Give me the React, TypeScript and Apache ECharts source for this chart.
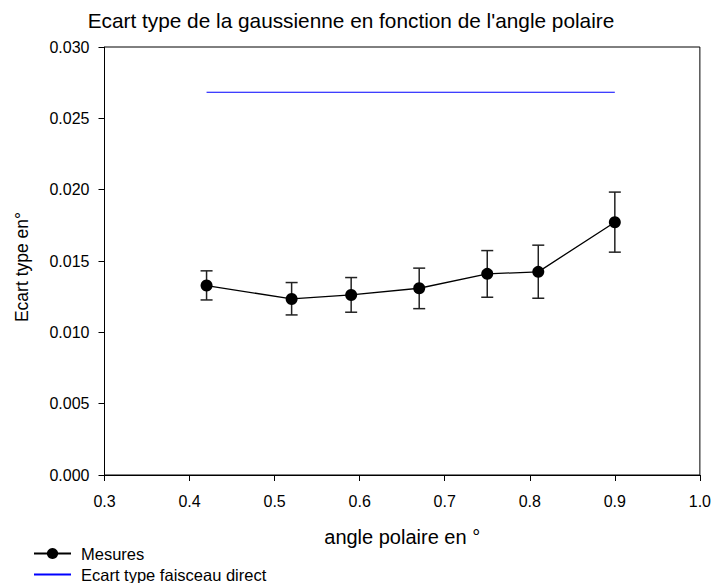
import React, { useEffect, useRef } from "react";
import * as echarts from "echarts";

const angles = [0.42, 0.52, 0.59, 0.67, 0.75, 0.81, 0.9];
const mesures = [0.01328, 0.01234, 0.01262, 0.01309, 0.0141, 0.01424, 0.01772];
const errLow = [0.01227, 0.01122, 0.01141, 0.01166, 0.01246, 0.01239, 0.01562];
const errHigh = [0.01431, 0.01349, 0.01384, 0.0145, 0.01573, 0.01611, 0.01983];
const faisceauDirect = [0.02683, 0.02683, 0.02683, 0.02683, 0.02683, 0.02683, 0.02683];

const FONT = "Liberation Sans, Arial, sans-serif";

export default function App() {
  const ref = useRef<HTMLDivElement>(null);
  useEffect(() => {
    document.body.style.margin = "0";
    if (!ref.current) return;
    const chart = echarts.init(ref.current, null, { renderer: "svg" });
    const errData = angles.map((a, i) => [a, errLow[i], errHigh[i]]);
    chart.setOption({
      animation: false,
      backgroundColor: "#ffffff",
      textStyle: { fontFamily: FONT },
      title: {
        text: "Ecart type de la gaussienne en fonction de l'angle polaire",
        left: 346,
        top: 5,
        textAlign: "center",
        textStyle: { fontFamily: FONT, fontSize: 20.8, fontWeight: "normal", color: "#000" },
      },
      graphic: [
        {
          type: "text",
          x: 22,
          y: 267,
          rotation: Math.PI / 2,
          style: {
            text: "Ecart type en°",
            fontFamily: FONT,
            fontSize: 17.5,
            fill: "#000",
            align: "center",
            verticalAlign: "middle",
          },
        },
      ],
      grid: {
        left: 104.5,
        right: 11.5,
        top: 47,
        bottom: 108,
        show: true,
        borderColor: "#000",
        borderWidth: 1,
        backgroundColor: "transparent",
      },
      legend: {
        orient: "vertical",
        left: 33,
        top: 545,
        padding: 0,
        itemWidth: 37,
        itemHeight: 14,
        itemGap: 4,
        textStyle: { fontFamily: FONT, fontSize: 16.5, color: "#000", padding: [0, 0, 0, 5] },
        data: [
          { name: "Mesures" },
          { name: "Ecart type faisceau direct", itemStyle: { opacity: 0 } },
        ],
      },
      xAxis: {
        type: "value",
        min: 0.3,
        max: 1.0,
        interval: 0.1,
        name: "angle polaire en °",
        nameLocation: "middle",
        nameGap: 52,
        nameTextStyle: { fontFamily: FONT, fontSize: 20, color: "#000" },
        axisLine: { show: true, lineStyle: { color: "#000", width: 1 } },
        axisTick: { show: true, length: 6, inside: false, lineStyle: { color: "#000" } },
        axisLabel: {
          fontFamily: FONT,
          fontSize: 16,
          color: "#000",
          margin: 18,
          formatter: (v: number) => v.toFixed(1),
        },
        splitLine: { show: false },
      },
      yAxis: {
        type: "value",
        min: 0,
        max: 0.03,
        interval: 0.005,
        axisLine: { show: true, lineStyle: { color: "#000", width: 1 } },
        axisTick: { show: true, length: 6, inside: false, lineStyle: { color: "#000" } },
        axisLabel: {
          fontFamily: FONT,
          fontSize: 16,
          color: "#000",
          margin: 15,
          formatter: (v: number) => v.toFixed(3),
        },
        splitLine: { show: false },
      },
      series: [
        {
          name: "Ecart type faisceau direct",
          type: "line",
          data: angles.map((a, i) => [a, faisceauDirect[i]]),
          symbol: "none",
          lineStyle: { color: "#0000ff", width: 1.2 },
          itemStyle: { color: "#0000ff" },
        },
        {
          name: "errorbars",
          type: "custom",
          data: errData,
          z: 3,
          renderItem: (params: any, api: any) => {
            const x = api.value(0);
            const lo = api.coord([x, api.value(1)]);
            const hi = api.coord([x, api.value(2)]);
            const hw = 6;
            const style = { stroke: "#222", lineWidth: 1.5 };
            return {
              type: "group",
              children: [
                { type: "line", shape: { x1: lo[0], y1: lo[1], x2: hi[0], y2: hi[1] }, style },
                { type: "line", shape: { x1: lo[0] - hw, y1: lo[1], x2: lo[0] + hw, y2: lo[1] }, style },
                { type: "line", shape: { x1: hi[0] - hw, y1: hi[1], x2: hi[0] + hw, y2: hi[1] }, style },
              ],
            };
          },
        },
        {
          name: "Mesures",
          type: "line",
          z: 4,
          data: angles.map((a, i) => [a, mesures[i]]),
          symbol: "circle",
          symbolSize: 12,
          lineStyle: { color: "#000", width: 1.3 },
          itemStyle: { color: "#000" },
        },
      ],
    });
    return () => chart.dispose();
  }, []);
  return <div ref={ref} style={{ width: 714, height: 583 }} />;
}
